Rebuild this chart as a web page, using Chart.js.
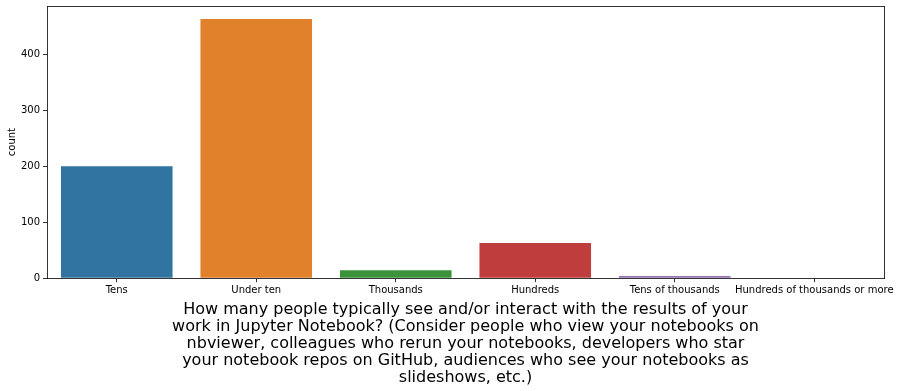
<!DOCTYPE html>
<html><head><meta charset="utf-8">
<script src="https://cdn.jsdelivr.net/npm/chart.js@4/dist/chart.umd.min.js"></script>
<style>html,body{margin:0;padding:0;background:#fff}#wrap{width:900px;height:391px}</style>
</head><body><div id="wrap"><canvas id="c" width="900" height="391"></canvas></div>
<script>
const categories = ["Tens","Under ten","Thousands","Hundreds","Tens of thousands","Hundreds of thousands or more"];
const counts = [200, 463, 14, 63, 4, 1];
const barColors = ['#3274a1','#e1812c','#3a923a','#c03d3e','#9372b2','#845b53'];
const yTicks = [0,100,200,300,400];
const titleLines = [
 "How many people typically see and/or interact with the results of your",
 "work in Jupyter Notebook? (Consider people who view your notebooks on",
 "nbviewer, colleagues who rerun your notebooks, developers who star",
 "your notebook repos on GitHub, audiences who see your notebooks as",
 "slideshows, etc.)"];
const FONT = "'DejaVu Sans', sans-serif";
Chart.defaults.font.family = FONT;
Chart.defaults.color = '#000';
new Chart(document.getElementById('c'), {
  type: 'bar',
  data: { labels: categories, datasets: [{ data: counts, backgroundColor: barColors, borderWidth: 0, categoryPercentage: 0.8, barPercentage: 1.0 }] },
  options: {
    responsive: false, animation: false,
    layout: { padding: { left: 0, right: 16, top: 6, bottom: 0 } },
    plugins: {
      legend: { display: false }, tooltip: { enabled: false },
      title: { display: true, position: 'bottom', fullSize: false, text: titleLines, color: '#000',
        font: { size: 16, family: FONT, weight: 'normal', lineHeight: 1.06 }, padding: { top: 3, bottom: 5 } }
    },
    scales: {
      x: { position: 'bottom', grid: { drawOnChartArea: false, offset: false, tickLength: 4, tickColor: '#000', tickWidth: 0.8 },
           border: { display: true, color: '#000', width: 0.8 },
           ticks: { font: { size: 10 }, color: '#000', maxRotation: 0, autoSkip: false, padding: 2 },
           afterFit: s => { s.height = 20; s.paddingLeft = 0; s.paddingRight = 0; } },
      x2: { position: 'top', grid: { display: false }, border: { display: true, color: '#000', width: 0.8 },
           ticks: { display: false }, afterFit: s => { s.height = 0; s.paddingLeft = 0; s.paddingRight = 0; } },
      y: { min: 0, max: 486, position: 'left',
           afterBuildTicks: s => { s.ticks = yTicks.map(v => ({ value: v })); },
           grid: { drawOnChartArea: false, tickLength: 4, tickColor: '#000', tickWidth: 0.8 },
           border: { display: true, color: '#000', width: 0.8 },
           ticks: { font: { size: 10 }, color: '#000', padding: 3 },
           title: { display: true, text: 'count', font: { size: 10 }, color: '#000', padding: { top: 6, bottom: 4 } },
           afterFit: s => { s.width = 47; s.paddingTop = 0; s.paddingBottom = 0; } },
      y2: { position: 'right', min: 0, max: 486, grid: { display: false }, border: { display: true, color: '#000', width: 0.8 },
           ticks: { display: false }, afterFit: s => { s.width = 0; s.paddingTop = 0; s.paddingBottom = 0; } }
    }
  }
});
</script></body></html>
